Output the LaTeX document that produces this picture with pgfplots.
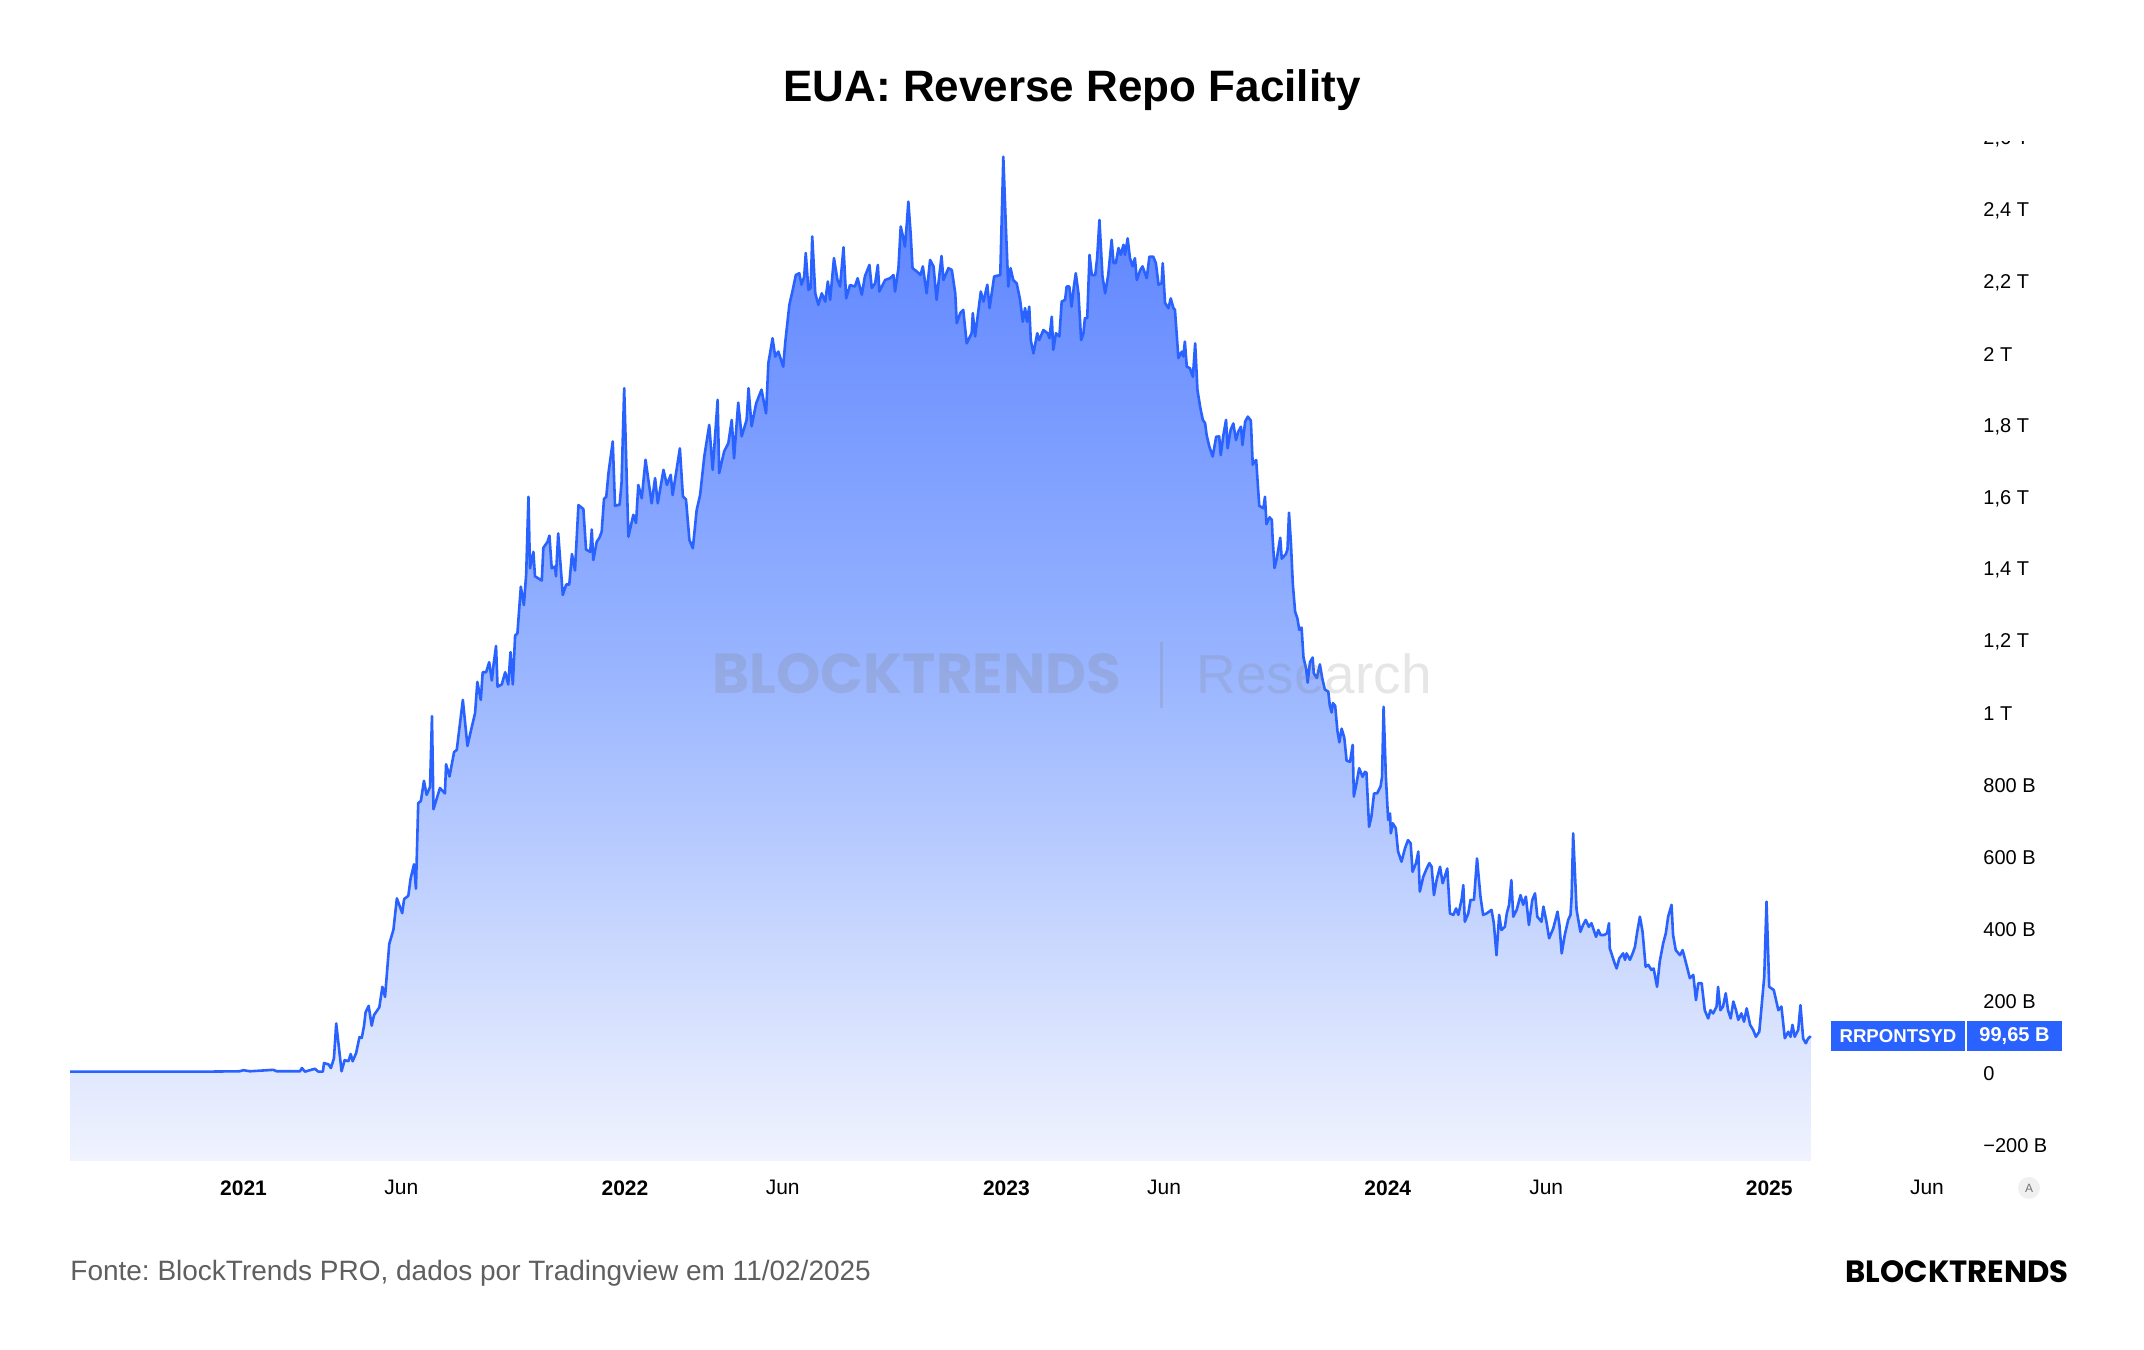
\documentclass[border=0pt]{standalone}
\usepackage{pgfplots}
\pgfplotsset{compat=1.18}
\usepackage{pgfplotstable}
\usepackage{graphicx}
\usepackage{fontspec}
\setmainfont{Liberation Sans}
\newfontfamily\logofont{Poppins}
\frenchspacing

\definecolor{tvblue}{RGB}{41,98,255}
\definecolor{areatop}{RGB}{88,128,255}
\definecolor{areamid}{RGB}{152,180,255}
\definecolor{areabot}{RGB}{241,244,254}
\definecolor{footgray}{RGB}{95,95,95}
\definecolor{wmgray}{RGB}{128,128,128}

% Overnight reverse repo volume, billions of USD (date as decimal year)
\pgfplotstableread{
date value
2020.545 1
2020.720 1
2020.900 1
2020.989 2
2021.000 5
2021.017 2
2021.078 6
2021.087 2
2021.148 2
2021.153 11
2021.161 1
2021.187 9
2021.196 1
2021.208 1
2021.211 25
2021.223 21
2021.229 11
2021.237 38
2021.243 135
2021.257 2
2021.265 33
2021.275 30
2021.281 50
2021.286 30
2021.295 52
2021.304 97
2021.310 95
2021.316 129
2021.320 166
2021.328 184
2021.336 129
2021.342 158
2021.356 180
2021.364 237
2021.371 209
2021.382 356
2021.393 396
2021.402 483
2021.416 442
2021.421 481
2021.432 490
2021.438 538
2021.447 578
2021.452 510
2021.458 748
2021.465 754
2021.473 810
2021.480 771
2021.489 793
2021.494 990
2021.498 731
2021.515 790
2021.528 775
2021.531 856
2021.540 822
2021.552 890
2021.559 896
2021.575 1035
2021.587 907
2021.598 958
2021.607 998
2021.613 1085
2021.622 1035
2021.627 1112
2021.636 1112
2021.644 1140
2021.651 1089
2021.655 1129
2021.662 1185
2021.666 1072
2021.677 1078
2021.686 1112
2021.694 1078
2021.700 1168
2021.706 1078
2021.712 1214
2021.718 1220
2021.727 1350
2021.735 1299
2021.741 1384
2021.747 1600
2021.751 1401
2021.760 1447
2021.764 1379
2021.782 1367
2021.786 1458
2021.797 1475
2021.802 1492
2021.808 1401
2021.817 1406
2021.819 1379
2021.825 1498
2021.837 1327
2021.846 1356
2021.854 1356
2021.861 1441
2021.869 1395
2021.878 1577
2021.891 1566
2021.898 1453
2021.909 1447
2021.913 1509
2021.917 1424
2021.926 1475
2021.933 1486
2021.939 1503
2021.945 1594
2021.951 1600
2021.957 1668
2021.968 1754
2021.974 1575
2021.986 1578
2021.991 1638
2021.998 1902
2022.009 1489
2022.022 1550
2022.029 1527
2022.035 1633
2022.044 1596
2022.054 1703
2022.070 1582
2022.079 1652
2022.086 1582
2022.101 1675
2022.110 1633
2022.120 1661
2022.125 1605
2022.136 1680
2022.144 1735
2022.152 1601
2022.160 1593
2022.169 1480
2022.178 1457
2022.188 1563
2022.197 1605
2022.208 1712
2022.221 1800
2022.230 1675
2022.243 1870
2022.247 1666
2022.260 1726
2022.271 1749
2022.280 1814
2022.286 1707
2022.297 1862
2022.306 1768
2022.319 1814
2022.324 1902
2022.332 1796
2022.344 1860
2022.358 1898
2022.370 1832
2022.376 1972
2022.387 2041
2022.394 1990
2022.402 2004
2022.415 1962
2022.420 2027
2022.431 2134
2022.440 2176
2022.448 2217
2022.457 2222
2022.463 2190
2022.470 2213
2022.474 2278
2022.481 2176
2022.487 2181
2022.491 2324
2022.499 2166
2022.507 2134
2022.516 2166
2022.525 2143
2022.532 2199
2022.538 2148
2022.548 2264
2022.557 2204
2022.564 2185
2022.573 2294
2022.580 2152
2022.590 2189
2022.603 2185
2022.610 2208
2022.621 2162
2022.629 2213
2022.641 2245
2022.647 2181
2022.656 2194
2022.663 2245
2022.667 2171
2022.682 2203
2022.695 2208
2022.704 2217
2022.708 2171
2022.717 2236
2022.723 2352
2022.730 2319
2022.734 2296
2022.739 2361
2022.743 2421
2022.749 2333
2022.754 2236
2022.765 2227
2022.775 2217
2022.781 2241
2022.791 2166
2022.800 2259
2022.809 2241
2022.817 2148
2022.830 2270
2022.835 2203
2022.848 2236
2022.857 2231
2022.866 2166
2022.870 2083
2022.879 2111
2022.887 2120
2022.896 2027
2022.909 2055
2022.912 2111
2022.918 2046
2022.933 2171
2022.940 2143
2022.950 2190
2022.956 2125
2022.968 2213
2022.984 2217
2022.992 2546
2022.999 2343
2023.005 2185
2023.011 2236
2023.018 2203
2023.027 2194
2023.036 2148
2023.043 2087
2023.049 2125
2023.054 2087
2023.060 2129
2023.064 2036
2023.071 1999
2023.081 2055
2023.086 2036
2023.097 2064
2023.108 2055
2023.113 2041
2023.119 2101
2023.123 2009
2023.130 2055
2023.139 2046
2023.145 2143
2023.154 2148
2023.158 2185
2023.165 2185
2023.171 2129
2023.177 2185
2023.182 2222
2023.189 2166
2023.196 2036
2023.202 2055
2023.206 2097
2023.212 2097
2023.218 2273
2023.224 2217
2023.233 2217
2023.238 2264
2023.244 2370
2023.252 2213
2023.259 2166
2023.267 2217
2023.276 2315
2023.281 2250
2023.287 2250
2023.294 2292
2023.300 2273
2023.307 2301
2023.311 2273
2023.318 2319
2023.324 2264
2023.331 2241
2023.337 2264
2023.342 2203
2023.351 2231
2023.357 2241
2023.368 2208
2023.375 2268
2023.385 2268
2023.392 2250
2023.399 2190
2023.407 2194
2023.410 2250
2023.416 2139
2023.425 2125
2023.431 2152
2023.438 2125
2023.442 2120
2023.451 1986
2023.460 2004
2023.464 1990
2023.468 2032
2023.473 1962
2023.481 1958
2023.489 1934
2023.495 2027
2023.501 1897
2023.508 1851
2023.515 1814
2023.521 1805
2023.525 1772
2023.532 1740
2023.541 1712
2023.550 1767
2023.558 1768
2023.562 1716
2023.569 1772
2023.576 1814
2023.580 1735
2023.588 1786
2023.595 1804
2023.602 1758
2023.608 1781
2023.615 1795
2023.619 1744
2023.626 1809
2023.633 1823
2023.641 1812
2023.646 1689
2023.650 1698
2023.655 1702
2023.663 1575
2023.674 1568
2023.678 1600
2023.682 1524
2023.690 1543
2023.696 1536
2023.698 1486
2023.703 1402
2023.709 1428
2023.713 1454
2023.718 1486
2023.722 1428
2023.733 1441
2023.737 1454
2023.741 1556
2023.746 1473
2023.751 1358
2023.757 1281
2023.763 1262
2023.768 1230
2023.774 1236
2023.779 1153
2023.786 1121
2023.790 1083
2023.796 1140
2023.803 1153
2023.806 1109
2023.814 1096
2023.822 1134
2023.828 1096
2023.835 1064
2023.844 1058
2023.848 1019
2023.853 1000
2023.856 1026
2023.862 1019
2023.868 949
2023.873 917
2023.879 955
2023.886 930
2023.892 866
2023.901 863
2023.908 910
2023.911 766
2023.918 803
2023.925 845
2023.934 821
2023.940 835
2023.944 833
2023.951 682
2023.957 710
2023.964 775
2023.972 775
2023.981 794
2023.985 821
2023.989 1016
2023.995 821
2024.001 701
2024.006 719
2024.008 664
2024.013 692
2024.021 678
2024.027 613
2024.036 585
2024.045 622
2024.053 645
2024.060 636
2024.065 557
2024.074 581
2024.080 613
2024.084 502
2024.093 543
2024.102 566
2024.109 581
2024.115 571
2024.121 492
2024.128 534
2024.137 571
2024.144 525
2024.156 566
2024.163 441
2024.172 437
2024.179 455
2024.185 437
2024.194 483
2024.198 520
2024.202 418
2024.211 441
2024.217 479
2024.226 479
2024.234 594
2024.243 488
2024.250 437
2024.259 441
2024.272 451
2024.278 414
2024.285 325
2024.292 437
2024.298 395
2024.307 404
2024.312 441
2024.318 465
2024.324 534
2024.329 432
2024.338 451
2024.348 492
2024.355 465
2024.362 488
2024.370 409
2024.379 479
2024.386 497
2024.392 432
2024.403 418
2024.408 460
2024.416 418
2024.423 372
2024.434 400
2024.445 446
2024.450 409
2024.456 330
2024.464 381
2024.473 423
2024.479 437
2024.482 488
2024.486 664
2024.495 451
2024.505 390
2024.512 409
2024.519 423
2024.527 404
2024.534 414
2024.546 376
2024.552 395
2024.558 381
2024.567 381
2024.575 386
2024.580 414
2024.582 344
2024.595 302
2024.600 288
2024.607 316
2024.617 330
2024.622 312
2024.626 330
2024.635 312
2024.642 330
2024.648 348
2024.654 390
2024.661 432
2024.668 390
2024.676 293
2024.683 298
2024.691 284
2024.697 288
2024.706 237
2024.713 307
2024.722 358
2024.729 386
2024.735 432
2024.744 465
2024.748 381
2024.755 339
2024.766 325
2024.773 339
2024.781 307
2024.792 261
2024.801 270
2024.808 200
2024.814 247
2024.823 247
2024.831 172
2024.840 149
2024.846 172
2024.853 163
2024.862 182
2024.866 237
2024.872 172
2024.879 182
2024.886 219
2024.892 172
2024.899 149
2024.906 196
2024.913 172
2024.919 145
2024.927 163
2024.934 140
2024.941 177
2024.950 131
2024.958 117
2024.965 98
2024.974 112
2024.980 182
2024.987 265
2024.993 474
2025.000 237
2025.012 228
2025.024 172
2025.032 182
2025.041 94
2025.050 112
2025.056 98
2025.061 131
2025.067 98
2025.076 117
2025.082 186
2025.089 93
2025.096 80
2025.102 93
2025.109 99.65
}\rrp

\begin{document}
\begin{tikzpicture}[x=0.5pt,y=0.5pt]
% canvas: 2144 x 1350 units, half a point each
\path[use as bounding box] (0,0) rectangle (2144,1350);

% title
\node[anchor=center, font=\bfseries\fontsize{22}{26}\selectfont] at (1072,1260)
  {EUA: Reverse Repo Facility};

\begin{axis}[
  at={(35pt,94.6pt)}, anchor=south west,
  scale only axis, width=948pt, height=509.4pt,
  xmin=2020.545, xmax=2025.516,
  ymin=-247, ymax=2587,
  axis line style={draw=none},
  tick style={draw=none},
  major tick length=0pt,
  xtick={2021,2021.4137,2022,2022.4137,2023,2023.4137,2024,2024.4153,2025,2025.4137},
  xticklabels={\textbf{2021},Jun,\textbf{2022},Jun,\textbf{2023},Jun,\textbf{2024},Jun,\textbf{2025},Jun},
  xticklabel style={font=\fontsize{10.5}{12}\selectfont, anchor=center, yshift=-13.5pt},
  ytick={-200,0,200,400,600,800,1000,1200,1400,1600,1800,2000,2200,2400},
  yticklabels={−200 B,0,200 B,400 B,600 B,800 B,1 T,{1,2 T},{1,4 T},{1,6 T},{1,8 T},2 T,{2,2 T},{2,4 T}},
  yticklabel pos=right,
  yticklabel style={font=\fontsize{10}{12}\selectfont, anchor=west, inner xsep=0pt, xshift=8.5pt, yshift=-0.8pt},
]
% gradient area down to the bottom of the pane
\addplot[draw=none, top color=areatop, bottom color=areabot, middle color=areamid]
  table[x=date, y=value]{\rrp} |- (axis cs:2020.545,-260) -- cycle;
% series line
\addplot[tvblue, line width=1.3pt, line join=round]
  table[x=date, y=value]{\rrp};
\coordinate (lastval) at (axis cs:2025.516,99.65);
\end{axis}

% partially hidden top price label
\begin{scope}
  \clip (1900,0) rectangle (2144,1208);
  \node[anchor=west, inner sep=0pt, font=\fontsize{10}{12}\selectfont] at (1983,1211) {2,6 T};
\end{scope}

% watermark
\node[anchor=center, text=wmgray, text opacity=0.22, inner sep=0pt] at (916.8,676)
  {\resizebox{204.4pt}{!}{\logofont\bfseries BLOCKTRENDS}};
\fill[wmgray, opacity=0.22] (1159.5,642) rectangle (1162.5,708);
\node[anchor=center, text=wmgray, text opacity=0.2, inner sep=0pt] at (1314,676)
  {\resizebox{117.6pt}{!}{Research}};

% last value tag
\fill[tvblue] ([xshift=-67.5pt,yshift=-7.5pt]lastval) rectangle ([xshift=-0.5pt,yshift=7.5pt]lastval);
\fill[tvblue] ([xshift=0.5pt,yshift=-7.5pt]lastval) rectangle ([xshift=48pt,yshift=7.5pt]lastval);
\node[text=white, font=\bfseries\fontsize{9.3}{11}\selectfont, inner sep=0pt] at ([xshift=-34pt]lastval) {RRPONTSYD};
\node[text=white, font=\bfseries\fontsize{10}{11}\selectfont, inner sep=0pt] at ([xshift=24.25pt]lastval) {99,65 B};

% auto-scale button
\fill[black!6] (2029,162) circle (11);
\node[text=black!55, font=\fontsize{6}{7}\selectfont, inner sep=0pt] at (2029,162) {A};

% footer
\node[anchor=west, inner sep=0pt, text=footgray, font=\fontsize{14}{16}\selectfont] at (70,77)
  {Fonte: BlockTrends PRO, dados por Tradingview em 11/02/2025};
\node[anchor=east, inner sep=0pt] at (2069,78)
  {\resizebox{111.5pt}{!}{\logofont\bfseries BLOCKTRENDS}};
\end{tikzpicture}
\end{document}
